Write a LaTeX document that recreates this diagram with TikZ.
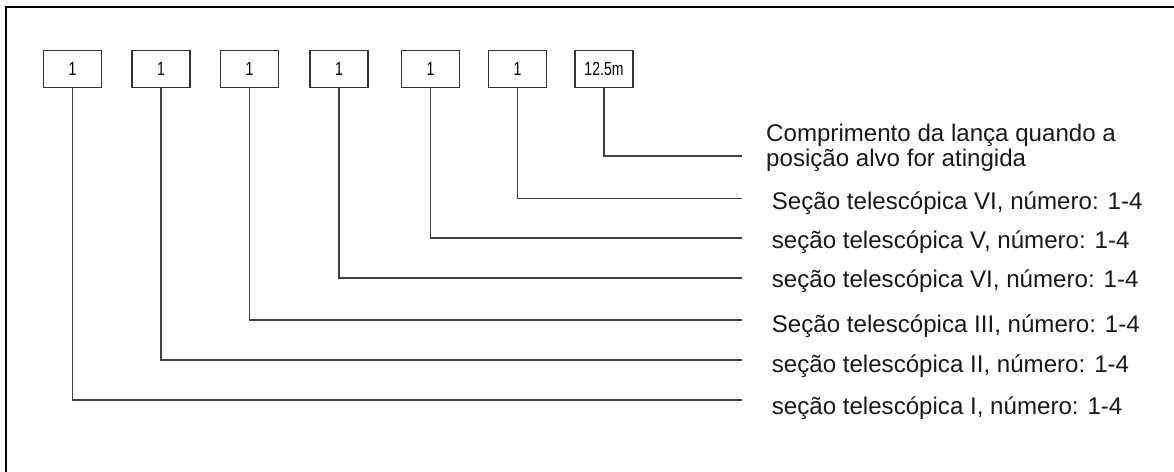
\documentclass[tikz,border=0pt]{standalone}
\usepackage{fontspec}
\setmainfont{Liberation Sans}
\begin{document}
\begin{tikzpicture}[x=1pt,y=-1pt,
  valbox/.style={draw=black!80,line width=1.3pt,minimum width=58pt,minimum height=37pt,inner sep=0pt,
    font=\fontsize{19}{19}\selectfont},
  lead/.style={draw=black!75,line width=1.3pt},
  lbl/.style={anchor=west,inner sep=0pt,font=\fontsize{24.1}{24.5}\selectfont,text=black!90}]
\useasboundingbox (0,0) rectangle (1174,471);
\draw[line width=2pt] (5.5,480) -- (5.5,6.5) -- (1180,6.5);
\foreach \n/\x/\t in {1/72.5/1,2/161/1,3/249.5/1,4/339/1,5/430.5/1,6/517.5/1,7/604/{12.5m}}
  \node[valbox] (b\n) at (\x,69.2) {\scalebox{0.74}[1]{\t}};
\foreach \n/\y in {1/400,2/360,3/320,4/278,5/238,6/198.5,7/156}
  \coordinate (e\n) at (741.7,\y);
\foreach \n in {1,...,7}
  \draw[lead] (b\n.south) |- (e\n);
\node[lbl,align=left] (t7) at (766,148) {Comprimento da lança quando a\\posição alvo for atingida};
\node[lbl] (t6) at (771.7,203) {Seção telescópica VI, número: 1-4};
\node[lbl] (t5) at (771.7,242) {seção telescópica V, número: 1-4};
\node[lbl] (t4) at (771.7,281) {seção telescópica VI, número: 1-4};
\node[lbl] (t3) at (771.7,326) {Seção telescópica III, número: 1-4};
\node[lbl] (t2) at (771.7,366) {seção telescópica II, número: 1-4};
\node[lbl] (t1) at (771.7,408) {seção telescópica I, número: 1-4};
\end{tikzpicture}
\end{document}
